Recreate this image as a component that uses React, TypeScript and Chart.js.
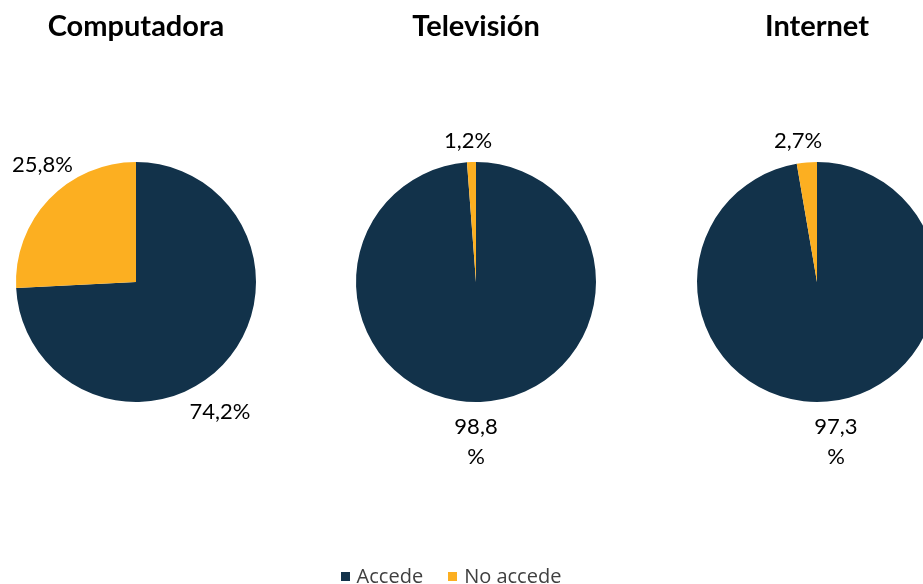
import React, { useEffect, useRef } from "react";
import { Chart, registerables } from "chart.js";

Chart.register(...registerables);

const categories = ["Computadora", "Televisión", "Internet"];
const seriesNames = ["Accede", "No accede"];
const accede = [74.2, 98.8, 97.3];
const noAccede = [25.8, 1.2, 2.7];

const NAVY = "#12324A";
const ORANGE = "#FCAF21";
const FONT = "Lato, 'Open Sans', sans-serif";

// label placement in radius units relative to pie centre (per chart, per slice)
const labelOffsets = [
  [[0.7, 1.08], [-0.78, -0.975]],
  [[0, 1.21], [-0.067, -1.175]],
  [[0.158, 1.21], [-0.158, -1.175]],
];
const wrapBig = [false, true, true];
const centersX = [136, 476, 817];
const CW = 340;
const CH = 584;

const fmt = (v: number) => v.toFixed(1).replace(".", ",");

const labelPlugin = {
  id: "sliceLabels",
  afterDatasetsDraw(chart: any, _args: any, opts: any) {
    const ctx = chart.ctx;
    const meta = chart.getDatasetMeta(0);
    const ds = chart.data.datasets[0];
    ctx.save();
    ctx.fillStyle = "#000";
    ctx.font = `22px ${FONT}`;
    ctx.textAlign = "center";
    ctx.textBaseline = "middle";
    meta.data.forEach((arc: any, i: number) => {
      const v = ds.data[i];
      const r = arc.outerRadius;
      const off = opts.offsets[i];
      const x = arc.x + off[0] * r;
      const y = arc.y + off[1] * r;
      const text = opts.wrap && v > 50 ? [fmt(v), "%"] : [fmt(v) + "%"];
      text.forEach((t: string, k: number) => ctx.fillText(t, x, y + k * 30));
    });
    ctx.restore();
  },
};

function PieChart({ idx }: { idx: number }) {
  const ref = useRef<HTMLCanvasElement>(null);
  useEffect(() => {
    if (!ref.current) return;
    const chart = new Chart(ref.current, {
      type: "pie",
      data: {
        labels: seriesNames,
        datasets: [
          {
            data: [accede[idx], noAccede[idx]],
            backgroundColor: [NAVY, ORANGE],
            borderWidth: 0,
          },
        ],
      },
      options: {
        responsive: false,
        animation: false,
        layout: { padding: { left: 50, right: 50, top: 0, bottom: 182 } },
        plugins: {
          legend: { display: false },
          tooltip: { enabled: false },
          title: {
            display: true,
            text: categories[idx],
            color: "#000",
            font: { family: FONT, size: 29, weight: "bold", lineHeight: 1.2 },
            padding: { top: 9.6, bottom: 117.6 },
          },
          sliceLabels: { offsets: labelOffsets[idx], wrap: wrapBig[idx] },
        } as any,
      },
      plugins: [labelPlugin],
    });
    return () => chart.destroy();
  }, [idx]);
  return (
    <canvas
      ref={ref}
      width={CW}
      height={CH}
      style={{ position: "absolute", top: 0, left: centersX[idx] - CW / 2, width: CW, height: CH }}
    />
  );
}

export default function App() {
  return (
    <div
      style={{
        position: "absolute",
        top: 0,
        left: 0,
        width: 923,
        height: 584,
        overflow: "hidden",
        background: "#fff",
      }}
    >
      {categories.map((_, i) => (
        <PieChart key={i} idx={i} />
      ))}
      <div
        style={{
          position: "absolute",
          top: 563,
          left: 0,
          width: 902,
          display: "flex",
          justifyContent: "center",
          alignItems: "center",
          fontFamily: "'Open Sans', sans-serif",
          fontSize: 20,
          color: "#404040",
          lineHeight: "26px",
        }}
      >
        {seriesNames.map((n, i) => (
          <span key={n} style={{ display: "flex", alignItems: "center", marginLeft: i ? 25 : 0 }}>
            <span style={{ width: 9, height: 9, background: i ? ORANGE : NAVY, display: "inline-block", marginRight: 7 }} />
            {n}
          </span>
        ))}
      </div>
    </div>
  );
}
